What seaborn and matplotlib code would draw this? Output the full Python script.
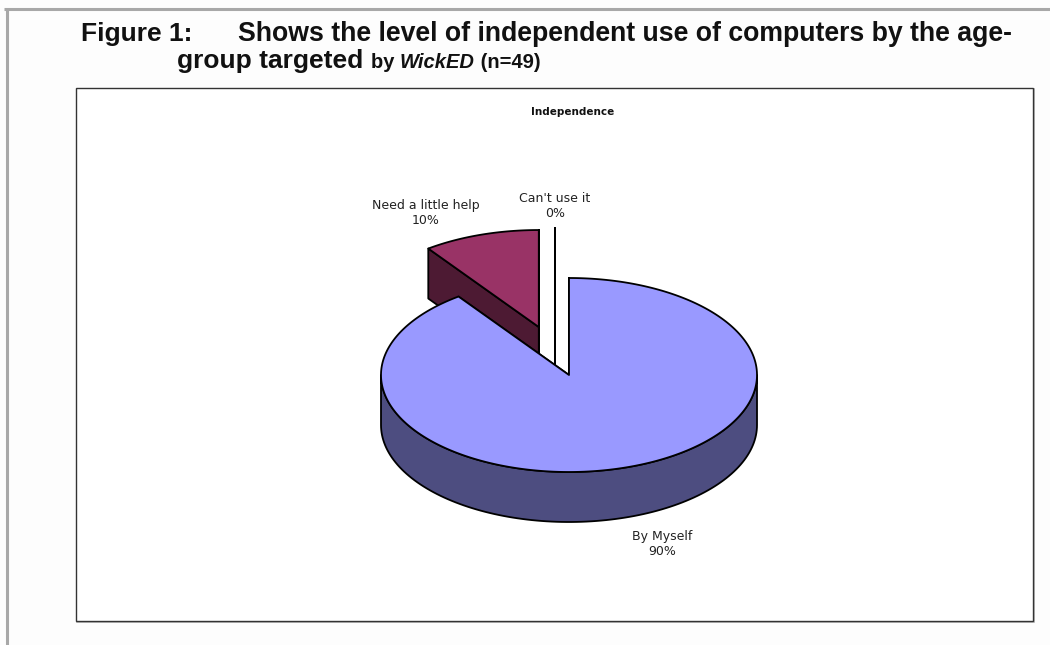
"""3D-style pie of how independently the WickED age group uses computers."""

import numpy as np
import matplotlib
matplotlib.use("Agg")
import matplotlib.pyplot as plt
from matplotlib.patches import Polygon, Rectangle
import seaborn as sns

# data
LABELS = ["By Myself", "Need a little help", "Can't use it"]
SHARES = [90, 10, 0]
TOP_COLORS = ["#9999ff", "#993366", "#ffffcc"]
SIDE_COLORS = ["#4d4d80", "#4d1a33", "#80806a"]
EXPLODE = [0.0, 0.52, 0.52]
DRAW_ORDER = [1, 2, 0]  # back to front

# pie geometry in pixel units
CX, CY = 569, 375
RX, RY = 188, 97
DEPTH = 50
ZERO_NUDGE = -8  # degrees, keeps the empty slice out of the gap edge

sns.set_theme(style="white")
plt.rcParams["font.family"] = ["DejaVu Sans"]

fig = plt.figure(figsize=(10.5, 6.45), dpi=100)
fig.patch.set_facecolor("#fdfdfd")
ax = fig.add_axes([0, 0, 1, 1])
ax.set_xlim(0, 1050)
ax.set_ylim(645, 0)
ax.axis("off")

# page frame and chart box
ax.plot([4, 1050], [9, 9], color="#a8a8a8", lw=2.2, solid_capstyle="butt")
ax.plot([7, 7], [9, 645], color="#a8a8a8", lw=2.2, solid_capstyle="butt")
ax.add_patch(Rectangle((77, 89), 957, 533, facecolor="none", edgecolor="#b0b0b0", lw=1.2))
ax.add_patch(Rectangle((76, 88), 957, 533, facecolor="white", edgecolor="#333333", lw=1.0))


def pt(theta, cx, cy, dz=0):
    t = np.radians(theta)
    return cx + RX * np.sin(t), cy - RY * np.cos(t) + dz


def draw_slice(a0, a1, ox, oy, top, side):
    cx, cy = CX + ox, CY + oy
    kw = dict(edgecolor="black", lw=1.3, joinstyle="round")
    # radial faces
    for a in (a0, a1):
        quad = [(cx, cy), pt(a, cx, cy), pt(a, cx, cy, DEPTH), (cx, cy + DEPTH)]
        ax.add_patch(Polygon(quad, closed=True, facecolor=side, **kw))
    # outer wall, front half only
    w0, w1 = max(a0, 90), min(a1, 270)
    if w1 > w0:
        ts = np.linspace(w0, w1, 120)
        upper = [pt(t, cx, cy) for t in ts]
        lower = [pt(t, cx, cy, DEPTH) for t in ts[::-1]]
        ax.add_patch(Polygon(upper + lower, closed=True, facecolor=side, **kw))
    # top face
    ts = np.linspace(a0, a1, max(2, int(a1 - a0) * 2))
    face = [(cx, cy)] + [pt(t, cx, cy) for t in ts]
    ax.add_patch(Polygon(face, closed=True, facecolor=top, **kw))


bounds = np.concatenate([[0], np.cumsum(SHARES)]) * 3.6
for i in DRAW_ORDER:
    a0, a1 = bounds[i], bounds[i + 1]
    mid = (a0 + a1) / 2
    if a1 == a0:
        mid += ZERO_NUDGE
    ox = EXPLODE[i] * RX * np.sin(np.radians(mid))
    oy = -EXPLODE[i] * RY * np.cos(np.radians(mid))
    draw_slice(a0, a1, ox, oy, TOP_COLORS[i], SIDE_COLORS[i])

# slice labels
label_pos = [(662, 544), (426, 213), (555, 206)]
for name, share, (lx, ly) in zip(LABELS, SHARES, label_pos):
    ax.text(lx, ly, f"{name}\n{share}%", ha="center", va="center",
            fontsize=9, color="#222222", linespacing=1.2)

ax.text(573, 112, "Independence", ha="center", va="center",
        fontsize=7.5, fontweight="bold", color="#111111")

# figure caption, smaller type at the end of the second line
title_font = ["Liberation Sans", "DejaVu Sans"]
ax.text(192, 41, "Figure 1:", fontsize=19, fontweight="bold",
        family=title_font, va="baseline", ha="right", color="#111111")
ax.text(238, 41, "Shows the level of independent use of computers by the age-",
        fontsize=19.2, fontweight="bold", family=title_font, va="baseline",
        color="#111111")

renderer = fig.canvas.get_renderer()
x = 177
pieces = [("group targeted ", 19, "normal"), ("by ", 14.5, "normal"),
          ("WickED", 14.5, "italic"), (" (n=49)", 14.5, "normal")]
for text, size, style in pieces:
    t = ax.text(x, 68, text, fontsize=size, fontweight="bold", fontstyle=style,
                family=title_font, va="baseline", color="#111111")
    bb = t.get_window_extent(renderer=renderer)
    x += bb.width

fig.savefig("out.png", dpi=100, facecolor=fig.get_facecolor())
